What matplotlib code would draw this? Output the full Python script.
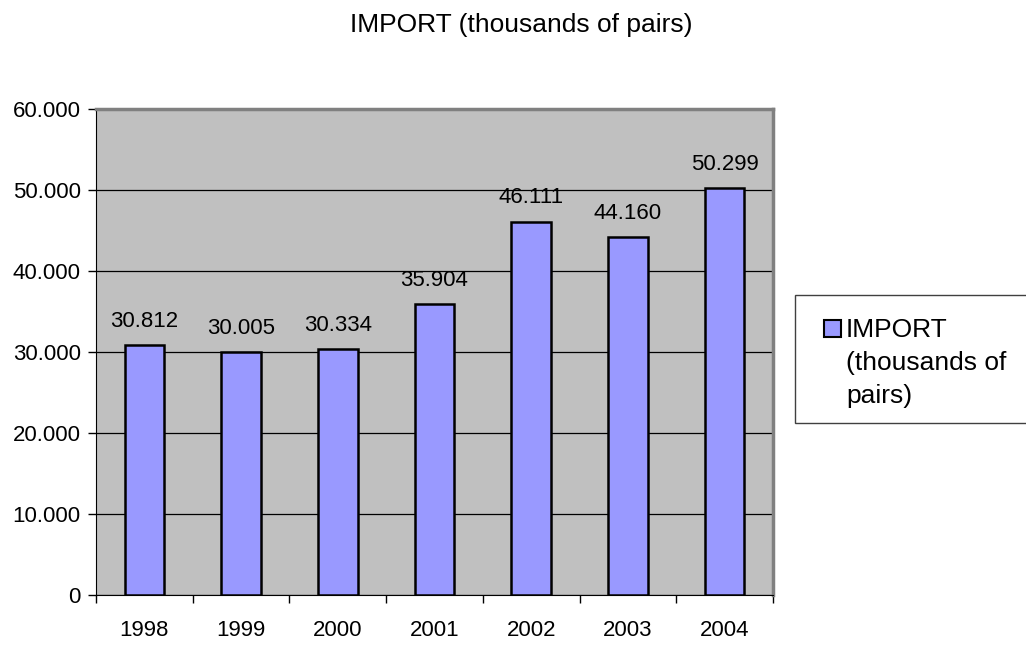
import matplotlib
matplotlib.use("Agg")
import matplotlib.pyplot as plt
from matplotlib.patches import Rectangle
from matplotlib.ticker import FuncFormatter
import numpy as np

plt.rcParams['font.family'] = ['Liberation Sans', 'DejaVu Sans']

years = ['1998', '1999', '2000', '2001', '2002', '2003', '2004']
imports = [30812, 30005, 30334, 35904, 46111, 44160, 50299]
title = 'IMPORT (thousands of pairs)'
legend_lines = ['IMPORT', '(thousands of', 'pairs)']

bar_color = '#9999FF'
plot_bg = '#C0C0C0'


def dotted(v):
    # thousands separated with a dot, as in the original
    return '0' if v == 0 else f"{int(v):,}".replace(',', '.')


fig = plt.figure(figsize=(10.26, 6.45), dpi=100)
ax = fig.add_axes([96 / 1026, 1 - 595 / 645, (773 - 96) / 1026, (595 - 109) / 645])
ax.set_facecolor(plot_bg)

x = np.arange(len(years))
ax.bar(x, imports, width=0.41, color=bar_color, edgecolor='black', linewidth=1.8, zorder=3)

for xi, v in zip(x, imports):
    ax.annotate(dotted(v), (xi, v), xytext=(0, 13), textcoords='offset points',
                ha='center', va='baseline', fontsize=16)

ax.set_xlim(-0.5, len(years) - 0.5)
ax.set_ylim(0, 60000)
ax.set_yticks(np.arange(0, 60001, 10000))
ax.yaxis.set_major_formatter(FuncFormatter(lambda v, p: dotted(v)))
ax.grid(axis='y', color='black', linewidth=0.9, zorder=1)

# category boundaries as ticks, year labels in between
ax.set_xticks(np.arange(-0.5, len(years), 1.0))
ax.set_xticklabels([])
ax.set_xticks(x, minor=True)
ax.set_xticklabels(years, minor=True)
ax.tick_params(axis='x', which='major', length=6, width=1, color='black', direction='out')
ax.tick_params(axis='x', which='minor', length=0, pad=18, labelsize=16)
ax.tick_params(axis='y', length=6, width=1, direction='out', pad=5, labelsize=16)

ax.spines['left'].set_color('black')
ax.spines['bottom'].set_color('black')
ax.spines['top'].set_color('#808080')
ax.spines['right'].set_color('#808080')
ax.spines['top'].set_linewidth(2.5)
ax.spines['right'].set_linewidth(2.5)

fig.text(521 / 1026, 1 - 32 / 645, title, ha='center', va='baseline', fontsize=19)

# legend box, runs off the right edge like the original
fig.patches.append(Rectangle((795 / 1026, 1 - 423 / 645), 240 / 1026, 128 / 645,
                             transform=fig.transFigure, facecolor='white',
                             edgecolor='#404040', linewidth=1))
fig.patches.append(Rectangle((824 / 1026, 1 - 337 / 645), 17 / 1026, 17 / 645,
                             transform=fig.transFigure, facecolor=bar_color,
                             edgecolor='black', linewidth=1.5))
for i, line in enumerate(legend_lines):
    fig.text(846 / 1026, 1 - (337 + 33 * i) / 645, line, ha='left', va='baseline',
             fontsize=19)

fig.savefig('out.png', dpi=100)
